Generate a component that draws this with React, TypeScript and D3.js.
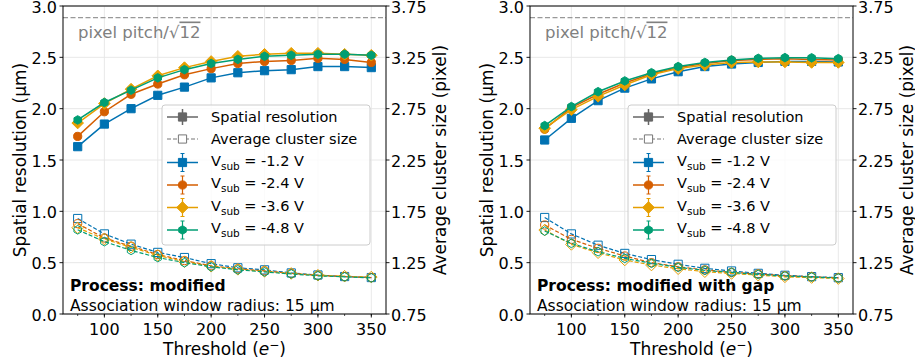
import React from "react";
import * as d3 from "d3";

const thresholds = [75, 100, 125, 150, 175, 200, 225, 250, 275, 300, 325, 350];
const voltageLabels = ["-1.2", "-2.4", "-3.6", "-4.8"];
const seriesColors = ["#0072B2", "#D55E00", "#E69F00", "#009E73"];
const seriesMarkers = ["square", "circle", "diamond", "hexagon"];

// Process: modified — spatial resolution (µm)
const resModV12 = [1.63, 1.85, 2.0, 2.13, 2.21, 2.3, 2.35, 2.37, 2.38, 2.41, 2.41, 2.4];
const resModV24 = [1.73, 1.97, 2.14, 2.24, 2.33, 2.39, 2.44, 2.46, 2.47, 2.49, 2.48, 2.45];
const resModV36 = [1.86, 2.05, 2.19, 2.32, 2.4, 2.46, 2.51, 2.53, 2.54, 2.54, 2.53, 2.52];
const resModV48 = [1.89, 2.06, 2.18, 2.3, 2.38, 2.44, 2.48, 2.51, 2.52, 2.53, 2.53, 2.52];
// Process: modified — average cluster size (pixel)
const clsModV12 = [1.68, 1.53, 1.43, 1.35, 1.3, 1.24, 1.2, 1.18, 1.15, 1.13, 1.115, 1.105];
const clsModV24 = [1.63, 1.49, 1.41, 1.33, 1.27, 1.22, 1.19, 1.17, 1.145, 1.125, 1.115, 1.105];
const clsModV36 = [1.59, 1.48, 1.4, 1.32, 1.26, 1.215, 1.185, 1.165, 1.145, 1.128, 1.118, 1.11];
const clsModV48 = [1.57, 1.455, 1.37, 1.3, 1.25, 1.21, 1.18, 1.16, 1.14, 1.122, 1.112, 1.102];

// Process: modified with gap — spatial resolution (µm)
const resGapV12 = [1.695, 1.906, 2.078, 2.2, 2.29, 2.36, 2.41, 2.435, 2.45, 2.46, 2.46, 2.455];
const resGapV24 = [1.8, 2.01, 2.14, 2.25, 2.34, 2.4, 2.44, 2.47, 2.48, 2.485, 2.48, 2.475];
const resGapV36 = [1.81, 1.99, 2.12, 2.23, 2.33, 2.39, 2.425, 2.45, 2.455, 2.455, 2.45, 2.45];
const resGapV48 = [1.835, 2.02, 2.165, 2.27, 2.35, 2.41, 2.45, 2.475, 2.49, 2.497, 2.495, 2.487];
// Process: modified with gap — average cluster size (pixel)
const clsGapV12 = [1.69, 1.53, 1.42, 1.34, 1.28, 1.234, 1.195, 1.169, 1.146, 1.127, 1.114, 1.104];
const clsGapV24 = [1.617, 1.477, 1.39, 1.315, 1.25, 1.21, 1.18, 1.155, 1.14, 1.122, 1.112, 1.102];
const clsGapV36 = [1.568, 1.428, 1.347, 1.276, 1.227, 1.191, 1.162, 1.145, 1.128, 1.112, 1.105, 1.095];
const clsGapV48 = [1.558, 1.438, 1.357, 1.292, 1.244, 1.205, 1.175, 1.155, 1.135, 1.12, 1.11, 1.1];

const xTicks = [100, 150, 200, 250, 300, 350];
const xMinorTicks = [75, 100, 125, 150, 175, 200, 225, 250, 275, 300, 325, 350];
const yLeftTicks = [0, 0.5, 1.0, 1.5, 2.0, 2.5, 3.0];
const yRightTicks = [0.75, 1.25, 1.75, 2.25, 2.75, 3.25, 3.75];
const pixelPitchLimit = 10 / Math.sqrt(12);

const FONT = "'DejaVu Sans', sans-serif";
const PW = 323;
const PH = 308;
const TOP = 6;
const TICK_FS = 16;
const LABEL_FS = 17;
const NOTE_FS = 15.5;

function markerPath(kind: string, r: number): string {
  if (kind === "square") return `M${-r},${-r}H${r}V${r}H${-r}Z`;
  if (kind === "circle") return d3.symbol(d3.symbolCircle, Math.PI * r * r)() as string;
  if (kind === "diamond") {
    const d = r * 1.414;
    return `M0,${-d}L${d},0L0,${d}L${-d},0Z`;
  }
  const pts = d3.range(6).map((i) => {
    const a = (Math.PI / 3) * i - Math.PI / 2;
    return [r * 1.05 * Math.cos(a), r * 1.05 * Math.sin(a)];
  });
  return "M" + pts.map((p) => p.join(",")).join("L") + "Z";
}

type PanelProps = {
  x0: number;
  res: number[][];
  cls: number[][];
  title: string;
  legendX: number;
  yLabelX: number;
};

function Panel({ x0, res, cls, title, legendX, yLabelX }: PanelProps) {
  const x = d3.scaleLinear().domain([61.25, 363.75]).range([0, PW]);
  const yL = d3.scaleLinear().domain([0, 3]).range([PH, 0]);
  const yR = d3.scaleLinear().domain([0.75, 3.75]).range([PH, 0]);
  const lineL = d3.line<number>().x((_, i) => x(thresholds[i])).y((d) => yL(d));
  const lineR = d3.line<number>().x((_, i) => x(thresholds[i])).y((d) => yR(d));
  const mr = 4.1;

  const legendTop = 105 - TOP;
  const legendRows = [117, 139, 162.5, 185, 207.5, 230].map((v) => v - TOP);
  const hx0 = legendX + 5;
  const hx1 = legendX + 36;
  const hxm = (hx0 + hx1) / 2;
  const tx = legendX + 49;

  return (
    <g transform={`translate(${x0},${TOP})`}>
      {/* grid */}
      {xTicks.map((t) => (
        <line key={"gx" + t} x1={x(t)} x2={x(t)} y1={0} y2={PH} stroke="#e5e5e5" strokeWidth={0.9} />
      ))}
      {yLeftTicks.map((t) => (
        <line key={"gy" + t} x1={0} x2={PW} y1={yL(t)} y2={yL(t)} stroke="#e5e5e5" strokeWidth={0.9} />
      ))}
      {/* pixel pitch line */}
      <line x1={0} x2={PW} y1={yL(pixelPitchLimit)} y2={yL(pixelPitchLimit)} stroke="#999" strokeWidth={1.4} strokeDasharray="5,2.5" />
      <text x={15} y={31.5} fontFamily={FONT} fontSize={16.5} fill="#808080">
        pixel pitch/√<tspan style={{ textDecoration: "overline" }}>12</tspan>
      </text>
      {/* cluster size series */}
      {cls.map((s, si) => (
        <g key={"c" + si}>
          <path d={lineR(s) as string} fill="none" stroke={seriesColors[si]} strokeWidth={1.2} strokeDasharray="4,2" />
          {s.map((v, i) => (
            <path
              key={i}
              d={markerPath(seriesMarkers[si], mr)}
              transform={`translate(${x(thresholds[i])},${yR(v)})`}
              fill="none"
              stroke={seriesColors[si]}
              strokeWidth={1}
            />
          ))}
        </g>
      ))}
      {/* resolution series */}
      {res.map((s, si) => (
        <g key={"r" + si}>
          <path d={lineL(s) as string} fill="none" stroke={seriesColors[si]} strokeWidth={1.5} />
          {s.map((v, i) => (
            <path
              key={i}
              d={markerPath(seriesMarkers[si], mr)}
              transform={`translate(${x(thresholds[i])},${yL(v)})`}
              fill={seriesColors[si]}
              stroke={seriesColors[si]}
              strokeWidth={1}
            />
          ))}
        </g>
      ))}
      {/* annotations */}
      <text x={7} y={290.5 - TOP} fontFamily={FONT} fontSize={NOTE_FS} fontWeight="bold" fill="#000">
        {title}
      </text>
      <text x={7} y={311 - TOP} fontFamily={FONT} fontSize={NOTE_FS} fill="#000">
        Association window radius: 15 µm
      </text>
      {/* legend */}
      <g>
        <rect x={legendX} y={legendTop} width={208} height={140} rx={3} fill="white" fillOpacity={0.8} stroke="#cccccc" strokeWidth={1} />
        <line x1={hx0} x2={hx1} y1={legendRows[0]} y2={legendRows[0]} stroke="#666" strokeWidth={1.5} />
        <line x1={hxm} x2={hxm} y1={legendRows[0] - 8} y2={legendRows[0] + 8} stroke="#666" strokeWidth={1.5} />
        <path d={markerPath("square", mr)} transform={`translate(${hxm},${legendRows[0]})`} fill="#666" stroke="#666" />
        <text x={tx} y={legendRows[0] + 5} fontFamily={FONT} fontSize={14.5}>Spatial resolution</text>
        <line x1={hx0} x2={hx1} y1={legendRows[1]} y2={legendRows[1]} stroke="#777" strokeWidth={1.2} strokeDasharray="4,2" />
        <path d={markerPath("square", mr)} transform={`translate(${hxm},${legendRows[1]})`} fill="white" stroke="#777" />
        <text x={tx} y={legendRows[1] + 5} fontFamily={FONT} fontSize={14.5}>Average cluster size</text>
        {voltageLabels.map((v, si) => {
          const yy = legendRows[si + 2];
          const c = seriesColors[si];
          return (
            <g key={"lg" + si}>
              <line x1={hx0} x2={hx1} y1={yy} y2={yy} stroke={c} strokeWidth={1.5} />
              <line x1={hxm} x2={hxm} y1={yy - 9} y2={yy + 9} stroke={c} strokeWidth={1.2} />
              <line x1={hxm - 2} x2={hxm + 2} y1={yy - 9} y2={yy - 9} stroke={c} strokeWidth={1} />
              <line x1={hxm - 2} x2={hxm + 2} y1={yy + 9} y2={yy + 9} stroke={c} strokeWidth={1} />
              <path d={markerPath(seriesMarkers[si], mr)} transform={`translate(${hxm},${yy})`} fill={c} stroke={c} />
              <text x={tx} y={yy + 3} fontFamily={FONT} fontSize={14.5}>
                V<tspan fontSize={10.5} dy={4}>sub</tspan>
                <tspan dy={-4}> = {v} V</tspan>
              </text>
            </g>
          );
        })}
      </g>
      {/* spines */}
      <rect x={0} y={0} width={PW} height={PH} fill="none" stroke="#000" strokeWidth={1} />
      {/* x ticks */}
      {xMinorTicks.map((t) => (
        <line key={"mx" + t} x1={x(t)} x2={x(t)} y1={PH} y2={PH + 2} stroke="#000" strokeWidth={0.7} />
      ))}
      {xTicks.map((t) => (
        <g key={"tx" + t}>
          <line x1={x(t)} x2={x(t)} y1={PH} y2={PH + 3.5} stroke="#000" strokeWidth={0.9} />
          <text x={x(t)} y={PH + 21} textAnchor="middle" fontFamily={FONT} fontSize={TICK_FS}>{t}</text>
        </g>
      ))}
      {yLeftTicks.map((t) => (
        <g key={"tl" + t}>
          <line x1={-3.5} x2={0} y1={yL(t)} y2={yL(t)} stroke="#000" strokeWidth={0.9} />
          <text x={-6} y={yL(t) + 6.5} textAnchor="end" fontFamily={FONT} fontSize={TICK_FS}>{t.toFixed(1)}</text>
        </g>
      ))}
      {yRightTicks.map((t) => (
        <g key={"tr" + t}>
          <line x1={PW} x2={PW + 3.5} y1={yR(t)} y2={yR(t)} stroke="#000" strokeWidth={0.9} />
          <text x={PW + 5} y={yR(t) + 6.5} fontFamily={FONT} fontSize={TICK_FS}>{t.toFixed(2)}</text>
        </g>
      ))}
      {/* axis labels */}
      <text x={PW / 2} y={PH + 41} textAnchor="middle" fontFamily={FONT} fontSize={LABEL_FS}>
        Threshold (<tspan fontStyle="italic">e</tspan><tspan fontSize={12} dy={-6}>−</tspan><tspan dy={6}>)</tspan>
      </text>
      <text transform={`translate(${yLabelX - x0 + 6},${PH / 2}) rotate(-90)`} textAnchor="middle" fontFamily={FONT} fontSize={LABEL_FS}>
        Spatial resolution (µm)
      </text>
      <text transform={`translate(${PW + 60},${PH / 2}) rotate(-90)`} textAnchor="middle" fontFamily={FONT} fontSize={LABEL_FS}>
        Average cluster size (pixel)
      </text>
    </g>
  );
}

export default function App() {
  return (
    <svg width={915} height={362} style={{ position: "absolute", left: 0, top: 0, background: "white" }}>
      <Panel
        x0={63}
        res={[resModV12, resModV24, resModV36, resModV48]}
        cls={[clsModV12, clsModV24, clsModV36, clsModV48]}
        title="Process: modified"
        legendX={162 - 63}
        yLabelX={20}
      />
      <Panel
        x0={530}
        res={[resGapV12, resGapV24, resGapV36, resGapV48]}
        cls={[clsGapV12, clsGapV24, clsGapV36, clsGapV48]}
        title="Process: modified with gap"
        legendX={628 - 530}
        yLabelX={487}
      />
    </svg>
  );
}
